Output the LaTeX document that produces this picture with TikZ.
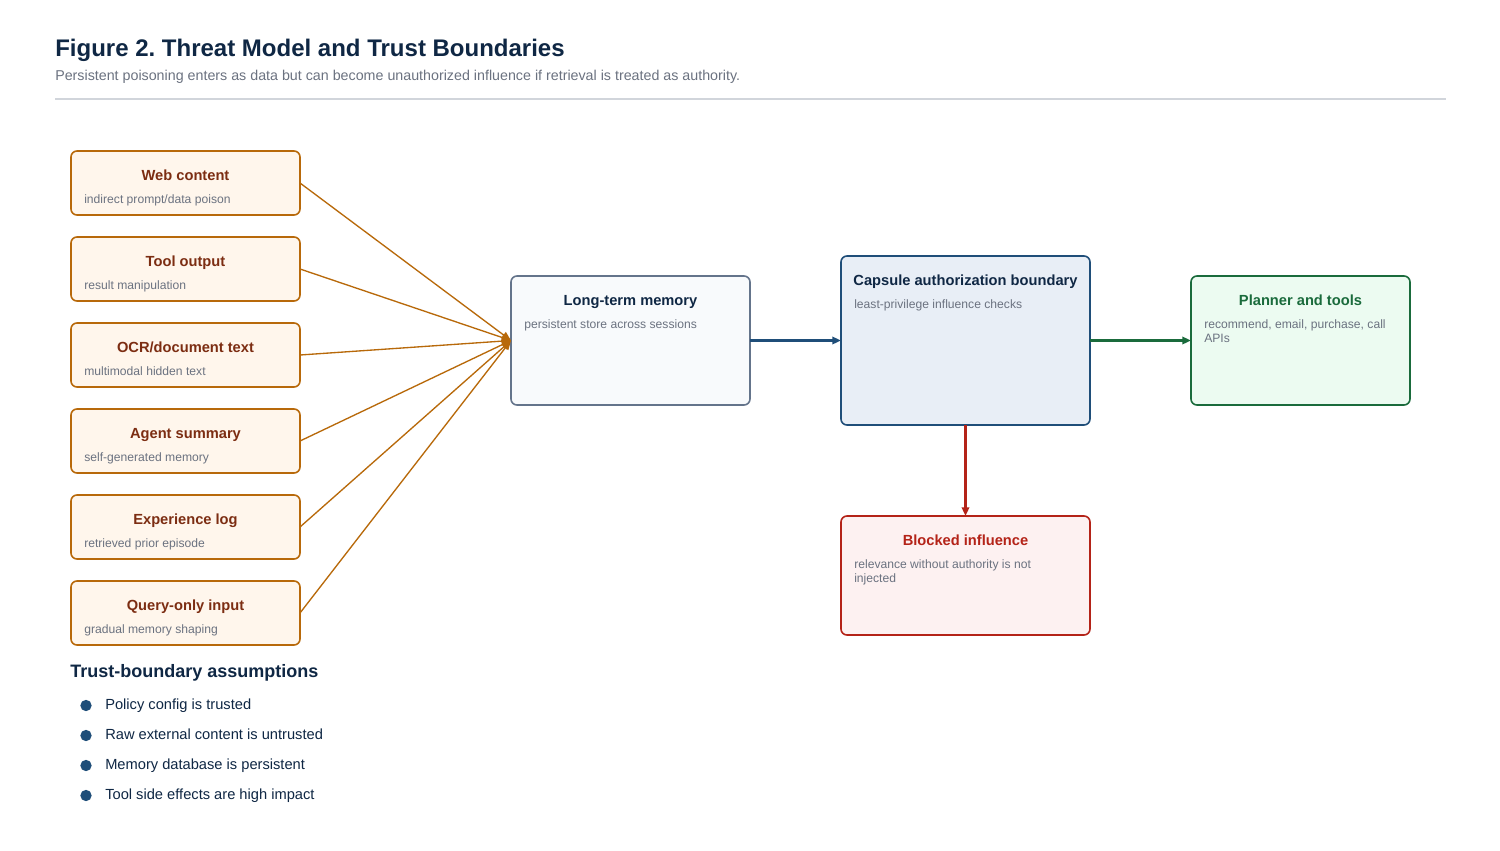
\documentclass[tikz,border=0pt]{standalone}
\usepackage{fontspec}
\setmainfont{Liberation Sans}
\usetikzlibrary{arrows.meta,positioning}
\definecolor{inkc}{HTML}{0F2744}
\definecolor{subc}{HTML}{6B7280}
\definecolor{rulec}{HTML}{D1D5DB}
\definecolor{srcline}{HTML}{B8690A}
\definecolor{srcfill}{HTML}{FFF6EC}
\definecolor{srctext}{HTML}{7C2D12}
\definecolor{memline}{HTML}{64748B}
\definecolor{memfill}{HTML}{F8FAFC}
\definecolor{capline}{HTML}{1F4E79}
\definecolor{capfill}{HTML}{E8EEF6}
\definecolor{planline}{HTML}{1A6B3C}
\definecolor{planfill}{HTML}{ECFBF1}
\definecolor{blkline}{HTML}{B42318}
\definecolor{blkfill}{HTML}{FDF1F1}
\frenchspacing
\begin{document}
\begin{tikzpicture}[
    x=0.75pt,y=-0.75pt,
    card/.style={rounded corners=4.5pt,line width=1.2pt,inner sep=0pt,outer sep=0pt},
    srcbox/.style={card,draw=srcline,fill=srcfill,minimum width=171.75pt,minimum height=48pt},
    head/.style={anchor=base,inner sep=0pt,font=\bfseries\fontsize{11}{13}\selectfont},
    sub/.style={anchor=base west,inner sep=0pt,align=left,text=subc,font=\fontsize{9.1}{10.5}\selectfont},
    feed/.style={-{Triangle[length=7pt,width=5.5pt]},draw=srcline,line width=1pt},
    flow/.style={-{Triangle[length=6.5pt,width=5.5pt]},line width=1.9pt},
    dot/.style={circle,fill=capline,inner sep=0pt,minimum size=8.5pt},
    item/.style={anchor=base west,inner sep=0pt,text=inkc,font=\fontsize{11}{13}\selectfont}
]
\fill[white] (0,0) rectangle (1500,850);
\useasboundingbox (0,0) rectangle (1500,850);

% title block
\node[anchor=base west,inner sep=0pt,text=inkc,font=\bfseries\fontsize{18}{20}\selectfont] (ttl) at (55,56) {Figure 2. Threat Model and Trust Boundaries};
\node[anchor=base west,inner sep=0pt,text=subc,font=\fontsize{10.7}{12}\selectfont] (subttl) at (55,80) {Persistent poisoning enters as data but can become unauthorized influence if retrieval is treated as authority.};
\draw[rulec,line width=1.5pt] (55,99) -- (1446,99);

% sources
\node[srcbox] (web) at (185.5,183) {};
\node[srcbox] (tool) at (185.5,269) {};
\node[srcbox] (ocr) at (185.5,355) {};
\node[srcbox] (summ) at (185.5,441) {};
\node[srcbox] (exp) at (185.5,527) {};
\node[srcbox] (query) at (185.5,613) {};
\node[head,text=srctext] at ([yshift=-21.75pt]web.north) {Web content};
\node[sub] at ([xshift=9.75pt,yshift=-39pt]web.north west) {indirect prompt/data poison};
\node[head,text=srctext] at ([yshift=-21.75pt]tool.north) {Tool output};
\node[sub] at ([xshift=9.75pt,yshift=-39pt]tool.north west) {result manipulation};
\node[head,text=srctext] at ([yshift=-21.75pt]ocr.north) {OCR/document text};
\node[sub] at ([xshift=9.75pt,yshift=-39pt]ocr.north west) {multimodal hidden text};
\node[head,text=srctext] at ([yshift=-21.75pt]summ.north) {Agent summary};
\node[sub] at ([xshift=9.75pt,yshift=-39pt]summ.north west) {self-generated memory};
\node[head,text=srctext] at ([yshift=-21.75pt]exp.north) {Experience log};
\node[sub] at ([xshift=9.75pt,yshift=-39pt]exp.north west) {retrieved prior episode};
\node[head,text=srctext] at ([yshift=-21.75pt]query.north) {Query-only input};
\node[sub] at ([xshift=9.75pt,yshift=-39pt]query.north west) {gradual memory shaping};

% memory, capsule, planner, blocked
\node[card,draw=memline,fill=memfill,minimum width=179.25pt,minimum height=96.75pt] (mem) at (630.5,340.5) {};
\node[head,text=inkc] at ([yshift=-21.75pt]mem.north) {Long-term memory};
\node[sub] at ([xshift=9.75pt,yshift=-39pt]mem.north west) {persistent store across sessions};

\node[card,draw=capline,fill=capfill,minimum width=186.75pt,minimum height=126.75pt] (cap) at (965.5,340.5) {};
\node[head,text=inkc] at ([yshift=-21.75pt]cap.north) {Capsule authorization boundary};
\node[sub] at ([xshift=9.75pt,yshift=-39pt]cap.north west) {least-privilege influence checks};

\node[card,draw=planline,fill=planfill,minimum width=164.25pt,minimum height=96.75pt] (plan) at (1300.5,340.5) {};
\node[head,text=planline] at ([yshift=-21.75pt]plan.north) {Planner and tools};
% two lines: base is the last line
\node[sub] at ([xshift=9.75pt,yshift=-49.5pt]plan.north west) {recommend, email, purchase, call\\APIs};

\node[card,draw=blkline,fill=blkfill,minimum width=186.75pt,minimum height=89.25pt] (blk) at (965.5,575.5) {};
\node[head,text=blkline] at ([yshift=-21.75pt]blk.north) {Blocked influence};
\node[sub] at ([xshift=9.75pt,yshift=-49.5pt]blk.north west) {relevance without authority is not\\injected};

% connectors
\draw[feed] (web.east) -- (mem.west);
\draw[feed] (tool.east) -- (mem.west);
\draw[feed] (ocr.east) -- (mem.west);
\draw[feed] (summ.east) -- (mem.west);
\draw[feed] (exp.east) -- (mem.west);
\draw[feed] (query.east) -- (mem.west);
\draw[flow,capline] (mem.east) -- (cap.west);
\draw[flow,planline] (cap.east) -- (plan.west);
\draw[flow,blkline] (cap.south) -- (blk.north);

% assumptions
\node[anchor=base west,inner sep=0pt,text=inkc,font=\bfseries\fontsize{13.5}{15}\selectfont] (asm) at (70,677) {Trust-boundary assumptions};
\node[dot] (d1) at (86,705.5) {};
\node[dot] (d2) at (86,735.5) {};
\node[dot] (d3) at (86,765.5) {};
\node[dot] (d4) at (86,795.5) {};
\node[item] at (105,709) {Policy config is trusted};
\node[item] at (105,739) {Raw external content is untrusted};
\node[item] at (105,769) {Memory database is persistent};
\node[item] at (105,799) {Tool side effects are high impact};
\end{tikzpicture}
\end{document}
